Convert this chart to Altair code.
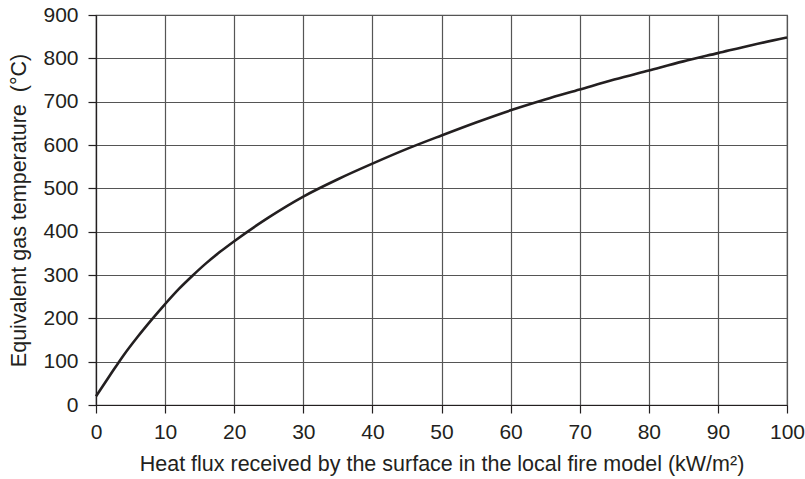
import altair as alt
import pandas as pd

flux = [0, 2, 4, 6, 8, 10, 12, 14, 16, 18, 20, 25, 30, 35, 40, 45, 50, 55, 60, 65, 70, 75, 80, 85, 90, 95, 100]
temp = [20, 68, 115, 157, 196, 233, 268, 299, 328, 354, 378, 433, 481, 521, 557, 591, 622, 652, 680, 705, 728, 751, 772, 793, 812, 831, 848]

df = pd.DataFrame({"flux": flux, "temp": temp})

FONT = "Liberation Sans"
INK = "#231f20"

chart = alt.Chart(df).mark_line(color=INK, strokeWidth=2.6, interpolate="monotone").encode(
    x=alt.X("flux:Q",
            scale=alt.Scale(domain=[0, 100], nice=False, zero=False),
            axis=alt.Axis(values=list(range(0, 101, 10)),
                          title="Heat flux received by the surface in the local fire model (kW/m²)")),
    y=alt.Y("temp:Q",
            scale=alt.Scale(domain=[0, 900], nice=False),
            axis=alt.Axis(values=list(range(0, 901, 100)),
                          title="Equivalent gas temperature\u00a0 (°C)")),
).properties(
    width=691, height=390,
    autosize=alt.AutoSizeParams(type="none"),
    padding={"left": 96, "top": 15, "right": 18, "bottom": 74},
).configure_view(
    stroke="#555", strokeWidth=1.2,
).configure_axis(
    labelFont=FONT, titleFont=FONT,
    labelFontSize=21, titleFontSize=21.5,
    labelColor=INK, titleColor=INK,
    titleFontWeight="normal",
    domainColor=INK, domainWidth=1.2,
    tickColor=INK, tickSize=8, tickWidth=1.2,
    gridColor="#555", gridWidth=1.2, gridOpacity=1,
).configure_axisX(
    labelPadding=8, titlePadding=11, labelFlush=False,
).configure_axisY(
    labelPadding=10, titlePadding=12,
)

chart.save("out.html", embed_options={"renderer": "svg", "actions": False})
